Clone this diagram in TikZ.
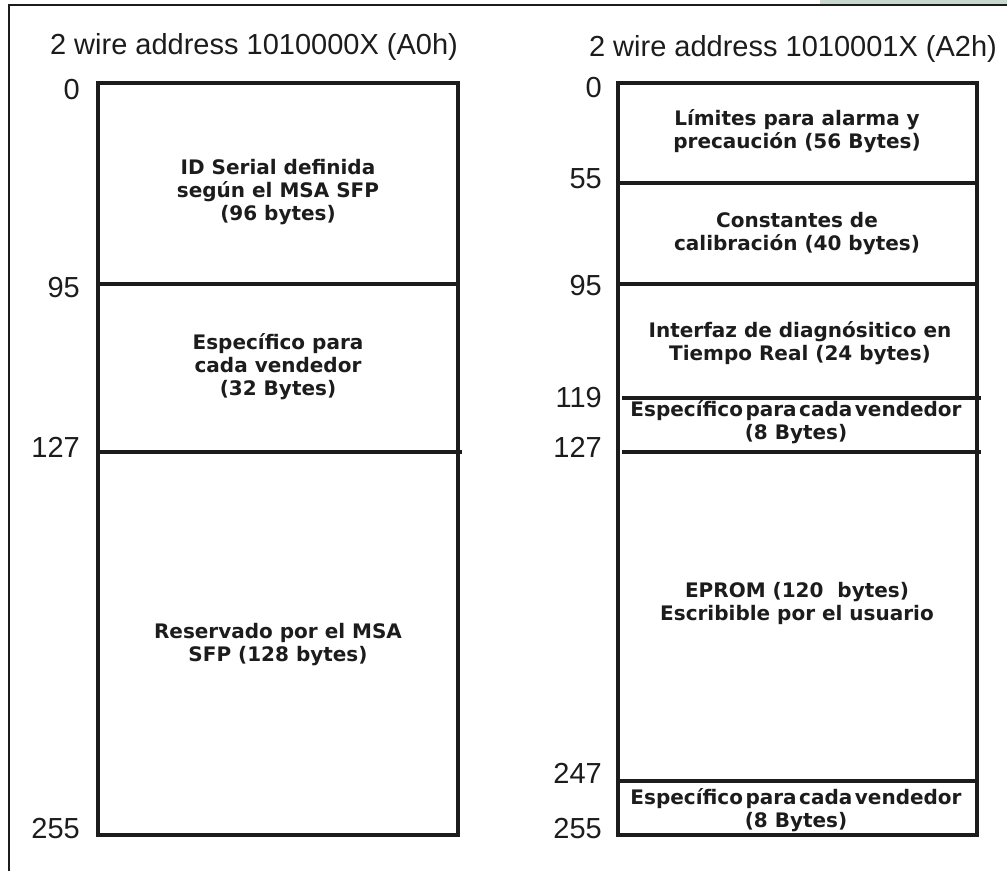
\documentclass[tikz,border=0pt]{standalone}
\usepackage{fontspec}
\setmainfont{DejaVu Sans}
\newfontfamily\arialfont{Liberation Sans}
\usetikzlibrary{positioning}
\definecolor{ink}{RGB}{28,28,28}
\definecolor{framegreen}{RGB}{200,216,206}
\newcommand{\tsp}{\hspace{2.5pt}}

\begin{document}
\begin{tikzpicture}[x=1pt,y=-1pt,
  title/.style={font=\arialfont\fontsize{29}{34}\selectfont,text=ink,inner sep=0pt,anchor=base},
  addr/.style={font=\arialfont\fontsize{29}{34}\selectfont,text=ink,inner sep=0pt,anchor=base east},
  field/.style={font=\bfseries\fontsize{20}{23}\selectfont,align=center,text=ink,inner sep=0pt},
  mapbox/.style={draw=ink,line width=3.2pt},
  divider/.style={draw=ink,line width=3.4pt}]
  \useasboundingbox (0,0) rectangle (1007,871);
  % outer frame
  \fill[framegreen] (820,0) rectangle (1007,4);
  \draw[ink,line width=2.8pt] (9,871) -- (9,5) -- (1007,5);
  % A0h map
  \node[title] (titleA) at (254,54) {2 wire address 1010000X (A0h)};
  \draw[mapbox] (98,83) rectangle (458,835);
  \draw[divider] (98,284) -- (458,284);
  \draw[divider] (98,452) -- (462,452);
  \node[addr] (a0) at (80,99) {0};
  \node[addr] (a95) at (80,297) {95};
  \node[addr] (a127) at (80,457) {127};
  \node[addr] (a255) at (80,838) {255};
  \node[field] (serial) at (278,192) {ID Serial definida\\según el MSA SFP\\(96 bytes)};
  \node[field] (vendA) at (278,367) {Específico para\\cada vendedor\\(32 Bytes)};
  \node[field] (reserved) at (278,645) {Reservado por el MSA\\SFP (128 bytes)};
  % A2h map
  \node[title] (titleB) at (793,56) {2 wire address 1010001X (A2h)};
  \draw[mapbox] (618,83) rectangle (977,835);
  \draw[divider] (618,183) -- (977,183);
  \draw[divider] (618,284) -- (977,284);
  \draw[divider] (622,398) -- (981,398);
  \draw[divider] (622,452) -- (981,452);
  \draw[divider] (618,781) -- (977,781);
  \node[addr] (b0) at (602,97) {0};
  \node[addr] (b55) at (602,188) {55};
  \node[addr] (b95) at (602,295) {95};
  \node[addr] (b119) at (602,407) {119};
  \node[addr] (b127) at (602,457) {127};
  \node[addr] (b247) at (602,783) {247};
  \node[addr] (b255) at (602,838) {255};
  \node[field] (alarm) at (797,131) {Límites para alarma y\\precaución (56 Bytes)};
  \node[field] (calib) at (797,234) {Constantes de\\calibración (40 bytes)};
  \node[field] (diag) at (800,343) {Interfaz de diagnósitico en\\Tiempo Real (24 bytes)};
  \node[field] (vendB) at (796,422) {Específico\tsp para\tsp cada\tsp vendedor\\(8 Bytes)};
  \node[field] (eprom) at (797,603) {EPROM (120~ bytes)\\Escribible por el usuario};
  \node[field] (vendC) at (796,810) {Específico\tsp para\tsp cada\tsp vendedor\\(8 Bytes)};
\end{tikzpicture}
\end{document}
